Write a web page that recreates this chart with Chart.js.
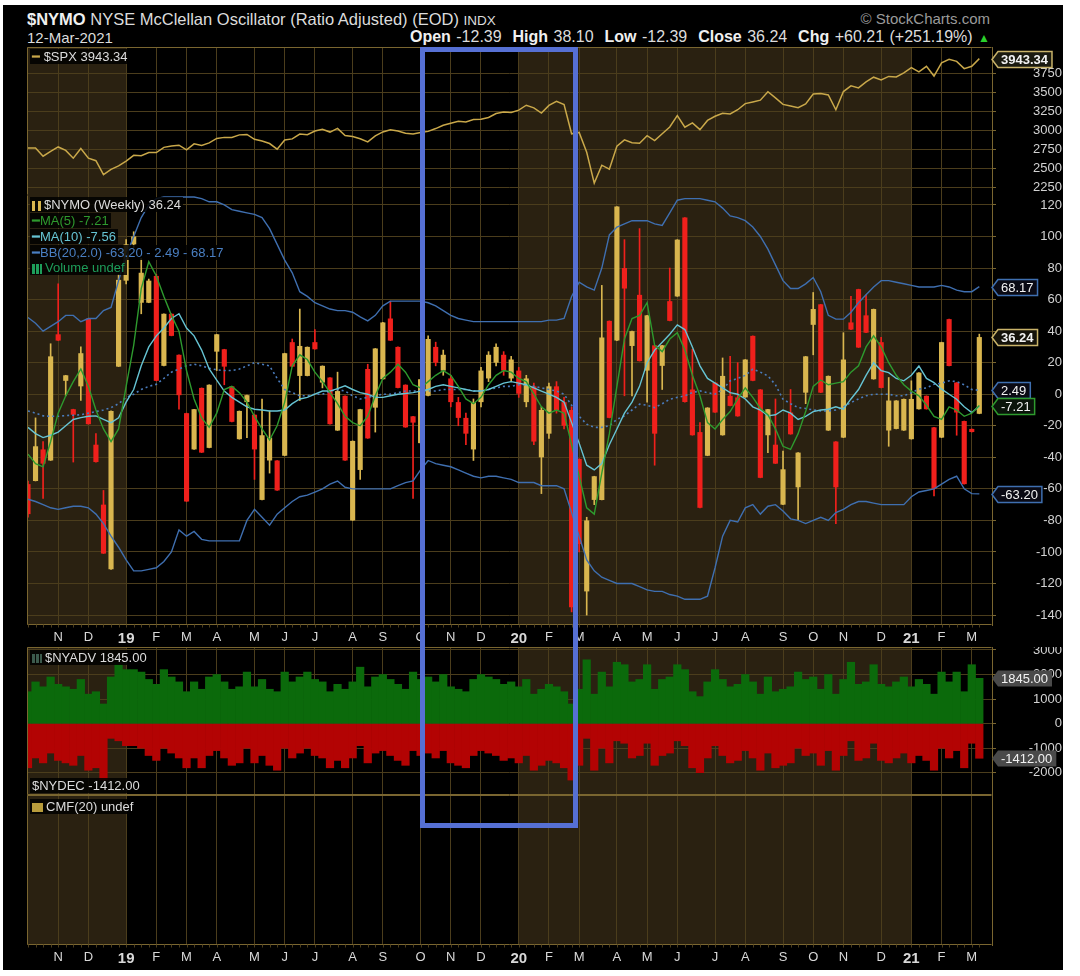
<!DOCTYPE html>
<html>
<head>
<meta charset="utf-8">
<script src="https://cdn.jsdelivr.net/npm/chart.js@4.4.1/dist/chart.umd.min.js"></script>
<style>
html,body{margin:0;padding:0;background:#fff;}
body{width:1080px;height:976px;position:relative;overflow:hidden;font-family:"Liberation Sans",Arial,sans-serif;}
#frame{position:absolute;left:3px;top:5px;width:1060px;height:965px;background:#000;}
canvas{position:absolute;left:0;}
.t{position:absolute;white-space:nowrap;color:#dcdcdc;}
.leg{position:absolute;white-space:nowrap;font-size:13px;line-height:15px;background:rgba(0,0,0,0.85);padding:0 2px;}
.ic{display:inline-block;vertical-align:middle;margin-right:3px;}
#hl{position:absolute;left:420px;top:47px;width:148px;height:771px;border:5px solid #5670d4;z-index:10;}
</style>
</head>
<body>
<div id="frame"></div>
<canvas id="cSpx" width="1062" height="148" style="top:47px"></canvas>
<canvas id="cNymo" width="1062" height="454" style="top:195px"></canvas>
<canvas id="cAdv" width="1062" height="148" style="top:647px"></canvas>
<canvas id="cCmf" width="1062" height="174" style="top:795px"></canvas>

<div class="t" style="left:27px;top:10px;font-size:16.5px;"><b style="color:#f0f0f0">$NYMO</b> NYSE McClellan Oscillator (Ratio Adjusted) (EOD) <span style="font-size:13.5px">INDX</span></div>
<div class="t" style="left:27px;top:29px;font-size:15px;">12-Mar-2021</div>
<div class="t" id="ohlc" style="right:90px;top:28px;font-size:16px;word-spacing:1px;"></div>
<div class="t" style="right:90px;top:10px;font-size:15px;color:#9a9a9a;">© StockCharts.com</div>

<div id="legs"></div>
<div id="hl"></div>

<script>
// ---------------- DATA ----------------
const firstWeek = [2018, 9, 12]; // first weekly bar (Fri 12-Oct-2018)

const nymoOpen = [-57,-55,-35,-42,38,8.5,-9.5,5,48,-32,
 -70,-111,17.5,72,95,58,58,75,18,51,
 25,-12,-35,4,-34,27,28.5,5,-28.5,-5,
 -13,-67,-42,-42,-39,33,11.6,11.6,33,7.4,
 10.6,-23,-1,-80,-48,16,-8.5,9.5,48,30,
 6,-14,-31,-1,30,15,10,-5,-15,-35,
 -5,10,20,25,10,15,-5,5,-40,-25,
 5,-5,-10,-41,-125,-67,-67,46.5,34,80,
 30.6,63,15,31,18,59,62,112,3,-24,
 -39,7.4,-26,-1,-2,-2,37,3,-26,-32,
 -70,-11.6,-59,1,44,57,-23,-30,-27.5,45.5,
 66.6,50,9.5,33,-23,-22,-23,-28.5,-9.5,-1,
 -21,-27.5,47.6,7.4,-17,-22,-12.39];
const nymoHigh = [-55,-15,-30,32,70,12,-9.5,30,48,-25,
 -61,-10.6,76,98,103,86,73,76,51,51,
 25,-12,-9.5,4,6,38,28.5,5,-10.6,-0.6,
 -13,-3,-10.6,-42,26,35,54,30,41,18,
 10.6,14,-1,-29.6,-9.5,19,29,45.5,59,30,
 6,-14,9.5,37,33,28,12,-2,-12,-3,
 17,27,32,27,24,17,12,7,-8,7,
 8,-2,-8,-41,-78,-52,69,46.5,119,98,
 40,105,50,31,31,80,98,112,28.5,-18,
 -8.5,7.4,23,24,20,22,37,3,-9.5,-3,
 -36,3,-37,24,64.5,57,11.6,-30,39,62,
 66.6,63,54,36,10.6,-4,-3,8.5,13.7,-1,
 -21,33,47.6,7.4,-17,-22,38.1];
const nymoLow = [-78,-55,-66,-42,34,-1,-43,-4,-19,-43,
 -101,-111,17.5,70,93,51,58,8.5,18,37,
 -9.5,-68,-35,-37,-34,15,6,-17.5,-28.5,-27.5,
 -54,-67,-50,-61,-39,17.5,-4,11.6,28.5,4,
 -19,-23,-42,-80,-54,-28,-24,9.5,34,4,
 -21,-66,-31,-1,18,12,-8,-20,-32,-42,
 -8,8,18,12,8,-2,-8,-32,-63,-28,
 -12,-22,-138,-100,-140,-70,-67,-15,34,-1,
 -1,21,-5,-45,3,46.5,62,-5,-26,-72,
 -39,-11.6,-26,-7.4,-14,-2,8.5,-53,-37,-44,
 -70,-25.4,-80,-6,25,1,-23,-82,-27.5,41,
 29.6,39,9.5,4,-33,-22,-23,-28.5,-9.5,-9.5,
 -64.5,-27.5,17.9,-26,-57,-24,-12.39];
const nymoClose = [-76,-33,-44,24,34,12,-13,26,-19,-43,
 -101,-10.6,72.5,95,100,77,72,8.5,51,37,
 -0.6,-68,-9.5,-37,6,38,17.5,-17.5,-10.6,-0.6,
 -35,-26,-27.5,-61,26,17.5,30.6,30,28.5,18,
 -19,2,-42,-29.6,-9.5,-28,29,45.5,34,4,
 -21,-18,9.5,35,20,25,-5,-15,-25,-5,
 15,25,30,15,22,0,10,-30,-10,5,
 -10,-20,-135,-95,-80,-52,36,-15,119,67,
 40,21,50,-25,31,46.5,98,-5,-26,-72,
 -8.5,-11.6,11.6,-7.4,-14,22,8.5,-53,-9.5,-44,
 -47.6,-25.4,-37,24,54,1,11.6,-59,22,41,
 29.6,39,54,4,-4,-4,-3,-3,13.7,-9.5,
 -60,33,17.9,-11.6,-57,-23.97,36.24];
const ma5 = [-38,-44,-46,-30,-12,-1,8,16,5,-10,
 -22,-30,-22,5,31,67,84,75,62,50,
 40,15,-3,-15,-21,-12,3,5,1,-5,
 -14,-22,-29,-20,-5,18,25,22,14,8,
 1,-6,-14,-18,-20,-14,-1,10,14,19,
 14,6,4,8,12,15,12,5,-3,-6,
 -2,6,12,15,14,10,8,0,-8,-12,
 -10,-12,-32,-52,-72,-76,-50,-25,5,35,
 48,50,58,31,27,35,39,28,12,-1,
 -18,-22,-16,-11,-3,4,-2,-9,-13,-22,
 -33,-35,-25,-11,5,9,6,7,8,14,
 18,30,37,30,20,12,6,2,-1,-7,
 -14,-16,-8,-10,-14,-12,-7.21];
const ma10 = [-21,-25,-27.5,-26,-24,-20,-16,-14.8,-14,-13.7,
 -16,-18,-15,-5,3,18,30,37,42,48,
 51,42,37,28,16,9,2,-2,-5,-8,
 -9.5,-10,-10.6,-10.6,-10,-6,-3,-2,0,2,
 2,3.5,5.3,3,1,0,-2,-2,-1,0,
 0.5,1,2,3,5,6,5,4,3,2,
 2,3,5,7,8,7,6,4,2,0,
 -2,-5,-18,-31,-45,-48,-44,-32,-22,-12,
 -5,5,20,28,33,38,44,41,30,18,
 10,7,4,1,0,-3,-8,-10,-13.7,-13,
 -10,-12,-16,-14,-11,-10,-9.5,-8,-9.5,-3,
 3,12,20,15,13.7,10,8.5,12,17.9,10,
 7.4,3.2,0,-3.2,-8,-11.6,-7.56];
const bbUpper = [48.6,45,40,43,46,50,50,46,48,48,
 53,55,72,88,100,112,120,124,125,125,
 125,125,125,124,122,122,120,117,116,115,
 114,112,105,95,85,77,65,62,58,56,
 54,53,53,52,49,46.5,50,56,59,59,
 59,59,59,58,56,53,50,48,47,46,
 46,46,46,46,46,46,46,46,46,47,
 47,48,62,71,68,66,80,101,106,108,
 110,110,110,108,107,115,123,124,124,124,
 123,122,118,113,112,110,106,100,92,82,
 72,67,67,70,74,65,50,47.6,47.6,52,
 58,63,68,72,72,71,70,69,68,68,
 68,69,68,66,65,65,68.17];
const bbMid = [-10.6,-12,-13.7,-14,-14,-13.5,-13.3,-13,-12,-11,
 -10,-8.5,-6,-2,0,3,5,6.3,10,14,
 16,18,19,18,16.5,15.5,15,15,16,18,
 20,19,18,10,3,1,-1,-1,0,0,
 2,3,2,-1,-3,-2,-1,0,0,1,
 2,2,2,2,2,3,3,3,3,2,
 2,3,4,5,5,6,6,5,4,3,
 2,0,-7,-14,-19,-21,-21,-20,-16,-13.7,
 -10,-6.3,-7,-8.5,-6,-3.2,-2,-1,1,2.1,
 1,0,3,8.5,10,12,15.9,14,11.6,6,
 -3.2,-6,-8.5,-9,-10,-10.6,-10.6,-10,-8,-5.3,
 -3,-1,0,0,0,-1,-1,1,3.2,4,
 6.3,7,8.5,8,6,3,2.49];
const bbLower = [-66.6,-68,-70,-72,-73,-72,-71,-71,-72,-76,
 -82,-90,-97,-105,-112,-112,-111,-110,-106,-100,
 -86,-90,-87,-92,-93,-93,-93,-93,-93,-80,
 -73,-78,-83,-76,-72,-68,-65,-64,-62,-60,
 -57,-55,-59,-60,-60,-60,-60,-60,-60,-58,
 -56,-55,-48,-42,-44,-45,-46,-48,-50,-52,
 -53,-52,-52,-53,-54,-56,-56,-56,-58,-58,
 -58,-60,-75,-90,-105,-112,-116,-118,-120,-120,
 -120,-122,-124,-125,-125,-127,-128,-130,-130,-130,
 -128,-110,-90,-80,-81,-72,-70,-76,-71,-70,
 -74,-79,-80,-82,-80,-78,-80,-75,-73,-70,
 -68,-68,-69,-70,-70,-70,-70,-65,-62,-61,
 -60,-57,-54,-52,-60,-63,-63.2];
const spx = [2767,2768,2659,2723,2781,2736,2633,2760,2633,2600,2417,2486,
 2532,2596,2671,2665,2707,2708,2776,2793,2804,2743,2822,2800,2834,2893,2907,2905,2940,2946,
 2881,2860,2826,2752,2873,2887,2950,2942,2990,3014,2977,3026,2932,2919,2889,2847,2926,2979,
 3007,2992,2962,2952,2970,2986,3023,3067,3093,3120,3110,3141,3146,3169,3221,3240,
 3235,3265,3330,3295,3226,3328,3380,3338,2954,2972,2711,2305,2541,2489,2790,2875,2837,2831,
 2930,2864,2955,3044,3194,3041,3098,3009,3130,3185,3225,3216,3271,3351,3373,3397,3508,3427,
 3341,3319,3298,3348,3477,3484,3465,3270,3510,3585,3558,3638,3699,3663,3709,3703,3756,
 3825,3768,3841,3714,3887,3935,3907,3811,3842,3943.34];
const nyadv = [1300,1700,1500,1900,1600,1500,1400,1800,1200,1300,
 800,1900,2400,2200,2200,2100,1800,1600,2200,1900,
 1700,1300,1700,1400,1900,2000,1700,1400,1500,2100,
 1500,1800,1400,1300,2100,1700,1900,2100,1800,1700,
 1300,1600,1400,1700,2300,1500,1900,2000,1800,1600,
 1400,2100,1800,1900,1700,2000,1500,1400,1300,1800,
 2000,1900,1800,1600,1700,1500,1800,1200,1400,1600,
 1500,1300,800,1400,2600,1200,2100,1500,2500,2400,
 1700,1800,2400,1400,1800,1900,2400,2200,1300,1100,
 1700,2200,1800,1500,1600,2000,1700,1200,1900,1300,
 1400,1500,2100,1800,1900,1400,2000,1200,1800,2500,
 1600,1700,2400,1600,1500,1700,1900,1500,1800,1600,
 1200,2100,1700,2100,1300,2400,1845];
const nydec = [-1800,-1400,-1600,-1200,-1500,-1600,-1700,-1300,-1900,-1800,
 -2300,-600,-700,-900,-900,-1000,-1300,-1500,-1000,-1200,
 -1400,-1800,-1400,-1800,-1300,-1100,-1400,-1700,-1600,-1000,
 -1600,-1300,-1700,-1900,-1000,-1400,-1200,-1000,-1300,-1400,
 -1800,-1500,-1800,-1400,-900,-1600,-1200,-1100,-1300,-1500,
 -1700,-1100,-1300,-1200,-1400,-1100,-1600,-1700,-1800,-1300,
 -1100,-1200,-1300,-1500,-1400,-1600,-1300,-1900,-1700,-1500,
 -1600,-1800,-2300,-1700,-600,-1900,-1000,-1600,-700,-800,
 -1400,-1300,-800,-1700,-1300,-1200,-700,-900,-1800,-2000,
 -1400,-900,-1300,-1600,-1500,-1100,-1400,-1900,-1200,-1800,
 -1700,-1600,-1000,-1300,-1200,-1700,-1100,-1900,-1300,-700,
 -1500,-1400,-800,-1500,-1600,-1400,-1200,-1600,-1300,-1500,
 -1900,-1000,-1400,-1100,-1800,-800,-1412];

const spxTicks  = [3750,3500,3250,3000,2750,2500,2250];
const nymoTicks = [120,100,80,60,40,20,0,-20,-40,-60,-80,-100,-120,-140];
const advTicks  = [3000,2000,1000,0,-1000,-2000];
const monthLetters = ['J','F','M','A','M','J','J','A','S','O','N','D'];

// ---------------- STYLE ----------------
const FONT = '"Liberation Sans", Arial, sans-serif';
const GRID = '#4b3d1c';
const AXIS = '#7a6630';
const BROWN = '#2a2111';
const YEL = '#d9b64f', RED = '#f0201c';

// ---------------- derived categories ----------------
const N = nymoClose.length;
const weekDates = Array.from({length:N}, (_, i) => new Date(Date.UTC(firstWeek[0], firstWeek[1], firstWeek[2] + 7*i)));
const monthTicks = [], tickLabel = {}, yearTicks = [];
for (let i = 1; i < N; i++) {
  const mon = new Date(weekDates[i].getTime() - 4*864e5);
  const prev = new Date(weekDates[i-1].getTime() - 4*864e5);
  if (mon.getUTCMonth() !== prev.getUTCMonth()) {
    const m = mon.getUTCMonth();
    monthTicks.push(i);
    tickLabel[i] = m === 0 ? String(mon.getUTCFullYear() % 100).padStart(2,'0') : monthLetters[m];
    if (m === 0) yearTicks.push(i);
  }
}
const XMIN = -0.13, XMAX = 127.68;
const pts = arr => arr.map((v, i) => ({x:i, y:v}));
const fmt = v => Number(v).toFixed(2);

// ---------------- plugins ----------------
const framePlugin = {
  id:'panelFrame',
  beforeDraw(chart){
    const {ctx, chartArea:a, scales:{x}} = chart;
    ctx.save();
    ctx.fillStyle = '#000'; ctx.fillRect(a.left, a.top, a.width, a.height);
    const edges = [x.min, ...yearTicks, x.max];
    ctx.fillStyle = BROWN;
    for (let j = 0; j < edges.length - 1; j += 2) {
      const x0 = Math.max(a.left, x.getPixelForValue(edges[j]));
      const x1 = Math.min(a.right, x.getPixelForValue(edges[j+1]));
      ctx.fillRect(x0, a.top, x1 - x0, a.height);
    }
    ctx.restore();
  },
  afterDraw(chart, args, opts){
    const {ctx, chartArea:a, scales:{x}} = chart;
    ctx.save(); ctx.strokeStyle = AXIS; ctx.lineWidth = 1;
    const L = a.left + 0.5, R = a.right - 0.5, T = a.top + 0.5, B = a.bottom - 0.5;
    ctx.beginPath();
    ctx.moveTo(L, T); ctx.lineTo(L, B);
    if (!opts.noTop) { ctx.moveTo(L, T); ctx.lineTo(R, T); }
    if (!opts.noBottom) { ctx.moveTo(L, B); ctx.lineTo(R, B); }
    ctx.stroke();
    if (opts.weekTicks) {
      ctx.strokeStyle = GRID; ctx.beginPath();
      for (let i = 0; i < N; i++) { const px = Math.round(x.getPixelForValue(i)) + 0.5;
        if (px > a.left && px < a.right) { ctx.moveTo(px, B); ctx.lineTo(px, B + 3); } }
      ctx.stroke();
    }
    ctx.restore();
  }
};
const boxPlugin = {
  id:'vboxes',
  afterDraw(chart, args, opts){
    const items = opts.items || [];
    const {ctx} = chart; const y = chart.scales.y;
    items.forEach(it => {
      const yy = Math.round(y.getPixelForValue(it.value)) + 0.5;
      ctx.save();
      ctx.font = (it.bold ? 'bold ' : '') + '13px ' + FONT;
      const w = ctx.measureText(it.text).width + 7, h = 16, x0 = 998;
      ctx.beginPath();
      ctx.moveTo(x0 - 6, yy); ctx.lineTo(x0, yy - h/2); ctx.lineTo(x0 + w, yy - h/2);
      ctx.lineTo(x0 + w, yy + h/2); ctx.lineTo(x0, yy + h/2); ctx.closePath();
      ctx.fillStyle = it.bg; ctx.fill();
      if (it.border) { ctx.strokeStyle = it.border; ctx.lineWidth = 1.5; ctx.stroke(); }
      ctx.fillStyle = '#f2f2f2'; ctx.textBaseline = 'middle'; ctx.textAlign = 'left';
      ctx.fillText(it.text, x0 + 3, yy + 1);
      ctx.restore();
    });
  }
};

function noPad(s){ s.paddingTop = 0; s.paddingBottom = 0; s.paddingLeft = 0; s.paddingRight = 0; }
function xScale(show){
  return {
    type:'linear', min:XMIN, max:XMAX, position:'bottom', offset:false,
    afterBuildTicks: s => { s.ticks = monthTicks.map(v => ({value:v})); },
    afterFit: s => { s.height = show ? 24 : 0; noPad(s); },
    grid:{color:GRID, drawTicks:false, offset:false},
    border:{display:false},
    ticks:{display:show, autoSkip:false, maxRotation:0, padding:5, color:'#d8d8d8',
      font: c => ({family:FONT, size: (c.tick && yearTicks.includes(c.tick.value)) ? 15 : 13,
                    weight: (c.tick && yearTicks.includes(c.tick.value)) ? 'bold' : 'normal'}),
      callback: v => tickLabel[Math.round(v)] || ''}
  };
}
function yScale(min, max, tickArr, show = true){
  return {
    position:'right', min, max,
    afterBuildTicks: s => { s.ticks = tickArr.map(v => ({value:v})); },
    afterFit: s => { s.width = 70; noPad(s); },
    grid:{color: tickArr.length ? GRID : 'transparent', drawTicks:true, tickLength:4, tickColor:AXIS},
    border:{display:true, color:AXIS},
    ticks:{display:show, crossAlign:'far', padding:4, color:'#d2d2d2', font:{family:FONT, size:13},
      callback: v => String(v)}
  };
}
function baseOpts(xShow, yOpts, boxes, frame){
  return {
    responsive:false, animation:false, devicePixelRatio:1,
    layout:{padding:{left:27, right:0, top:0, bottom:0}, autoPadding:false},
    plugins:{legend:{display:false}, tooltip:{enabled:false}, vboxes:{items:boxes}, panelFrame:frame || {}},
    scales:{x:xScale(xShow), y:yOpts}
  };
}

// ---------------- SPX ----------------
new Chart(document.getElementById('cSpx'), {
  type:'line',
  data:{datasets:[{data:pts(spx), borderColor:'#c9a84a', borderWidth:1.5, pointRadius:0, tension:0}]},
  options: baseOpts(false, yScale(2149, 4096, spxTicks),
    [{value:spx[N-1], text:fmt(spx[N-1]), bg:'#1a1a10', border:'#c9b36a', bold:true}], {noBottom:true}),
  plugins:[framePlugin, boxPlugin]
});

// ---------------- NYMO ----------------
const candleCol = nymoClose.map((c, i) => c >= nymoOpen[i] ? YEL : RED);
const lineDs = (arr, col, extra = {}) => Object.assign({type:'line', data:pts(arr), borderColor:col, borderWidth:1.4,
  pointRadius:0, tension:0, order:0}, extra);
new Chart(document.getElementById('cNymo'), {
  type:'bar',
  data:{datasets:[
    lineDs(ma5, '#2e9a2e'),
    lineDs(ma10, '#66c4d4'),
    lineDs(bbUpper, '#3f6fb0'),
    lineDs(bbLower, '#3f6fb0'),
    lineDs(bbMid, '#4a7cbd', {borderDash:[2,3], borderWidth:1.6}),
    {type:'bar', data:nymoOpen.map((o, i) => ({x:i, y:[o, nymoClose[i]]})), backgroundColor:candleCol,
      barPercentage:0.68, categoryPercentage:1, grouped:false, minBarLength:1, order:1},
    {type:'bar', data:nymoLow.map((l, i) => ({x:i, y:[l, nymoHigh[i]]})), backgroundColor:candleCol,
      barThickness:1, grouped:false, order:2}
  ]},
  options: baseOpts(true, yScale(-146.3, 126.3, nymoTicks), [
    {value:bbUpper[N-1], text:fmt(bbUpper[N-1]), bg:'#0a0a14', border:'#3f6fb0'},
    {value:nymoClose[N-1], text:fmt(nymoClose[N-1]), bg:'#14120a', border:'#c9b36a', bold:true},
    {value:bbMid[N-1], text:fmt(bbMid[N-1]), bg:'#0a0a14', border:'#3f6fb0'},
    {value:ma5[N-1], text:fmt(ma5[N-1]), bg:'#0a140a', border:'#2e9a2e'},
    {value:bbLower[N-1], text:fmt(bbLower[N-1]), bg:'#0a0a14', border:'#3f6fb0'}
  ], {noTop:true, weekTicks:true}),
  plugins:[framePlugin, boxPlugin]
});

// ---------------- NYADV / NYDEC ----------------
new Chart(document.getElementById('cAdv'), {
  type:'bar',
  data:{datasets:[
    {data:pts(nyadv), backgroundColor:'#0b6a0b', barPercentage:1, categoryPercentage:1, grouped:false},
    {data:pts(nydec), backgroundColor:'#b30303', barPercentage:1, categoryPercentage:1, grouped:false}
  ]},
  options: baseOpts(false, yScale(-2909, 3122, advTicks), [
    {value:nyadv[N-1], text:fmt(nyadv[N-1]), bg:'#4a4a4a'},
    {value:nydec[N-1], text:fmt(nydec[N-1]), bg:'#4a4a4a'}
  ]),
  plugins:[framePlugin, boxPlugin]
});

// ---------------- CMF (undefined) ----------------
new Chart(document.getElementById('cCmf'), {
  type:'line',
  data:{datasets:[{data:[], borderColor:'#c9a84a'}]},
  options: baseOpts(true, yScale(-1, 1, [], false), [], {weekTicks:true}),
  plugins:[framePlugin, boxPlugin]
});

// ---------------- header + legends (text) ----------------
const last = a => a[a.length - 1];
const chg = nymoClose[N-1] - nymoClose[N-2];
document.getElementById('ohlc').innerHTML =
  `<b style="color:#f0f0f0">Open</b> ${fmt(nymoOpen[N-1])} &nbsp;<b style="color:#f0f0f0">High</b> ${fmt(nymoHigh[N-1])} &nbsp;<b style="color:#f0f0f0">Low</b> ${fmt(nymoLow[N-1])} &nbsp;<b style="color:#f0f0f0">Close</b> ${fmt(nymoClose[N-1])} &nbsp;<b style="color:#f0f0f0">Chg</b> +${fmt(chg)} (+${fmt(chg/Math.abs(nymoClose[N-2])*100)}%) <span style="color:#2bd02b;font-size:12px">▲</span>`;

const legs = [
  {top:49, left:30, html:`<span style="color:#c9a84a">━</span> <span style="color:#dcdcdc">$SPX ${fmt(last(spx))}</span>`},
  {top:197, left:30, html:`<span class="ic" style="width:9px;height:10px;background:linear-gradient(90deg,#d9b64f 0 3px,transparent 3px 6px,#d9b64f 6px 9px)"></span><span style="color:#dcdcdc">$NYMO (Weekly) ${fmt(last(nymoClose))}</span>`},
  {top:213, left:30, html:`<span style="color:#2e9a2e">━MA(5) ${fmt(last(ma5))}</span>`},
  {top:229, left:30, html:`<span style="color:#66c4d4">━MA(10) ${fmt(last(ma10))}</span>`},
  {top:245, left:30, html:`<span style="color:#4a7fc2">━BB(20,2.0) ${fmt(last(bbLower))} - ${fmt(last(bbMid))} - ${fmt(last(bbUpper))}</span>`},
  {top:260, left:30, html:`<span class="ic" style="width:10px;height:10px;background:linear-gradient(90deg,#1e9e5a 0 3px,transparent 3px 4px,#1e9e5a 4px 7px,transparent 7px 8px,#1e9e5a 8px)"></span><span style="color:#1e9e5a">Volume undef</span>`},
  {top:650, left:30, html:`<span class="ic" style="width:10px;height:9px;background:linear-gradient(90deg,#3c5a4c 0 3px,transparent 3px 4px,#3c5a4c 4px 7px,transparent 7px 8px,#3c5a4c 8px)"></span><span style="color:#dcdcdc">$NYADV ${fmt(last(nyadv))}</span>`},
  {top:778, left:30, html:`<span style="color:#dcdcdc">$NYDEC ${fmt(last(nydec))}</span>`},
  {top:799, left:30, html:`<span class="ic" style="width:11px;height:9px;background:#b89c3c"></span><span style="color:#dcdcdc">CMF(20) undef</span>`}
];
const legBox = document.getElementById('legs');
legs.forEach(l => { const d = document.createElement('div'); d.className = 'leg';
  d.style.top = l.top + 'px'; d.style.left = l.left + 'px'; d.innerHTML = l.html; legBox.appendChild(d); });
</script>
</body>
</html>
